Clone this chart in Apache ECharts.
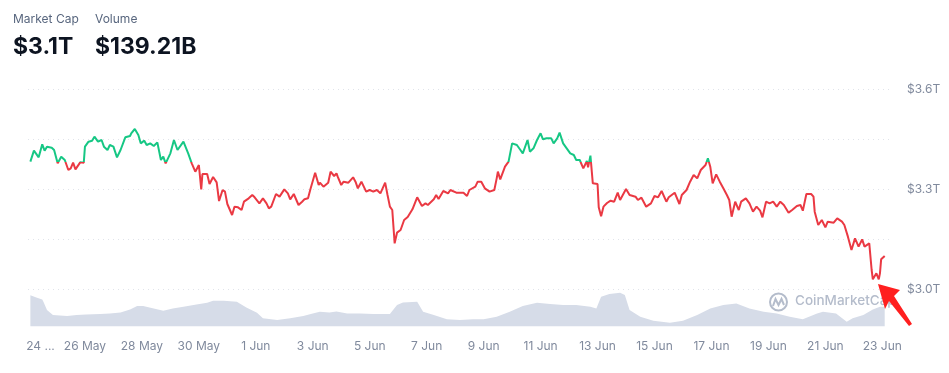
<!DOCTYPE html>
<html>
<head>
<meta charset="utf-8">
<script src="https://cdn.jsdelivr.net/npm/echarts@6/dist/echarts.min.js"></script>
<style>
html,body{margin:0;padding:0;background:#fff;}
#chart{width:949px;height:373px;}
</style>
</head>
<body>
<div id="chart"></div>
<script>
// Hours since 24 May 00:00
const priceHours = [
  2,5,9,12,14,16,20,22,25,28,
  31,34,36,38,40,44,47,48,51,54,
  56,59,62,64,67,69,72,75,78,82,
  86,87,90,93,95,98,100,103,106,109,
  112,114,116,120,123,126,131,135,138,141,
  144,146,147,151,153,156,159,161,164,166,
  168,172,174,177,180,182,186,189,191,195,
  198,201,203,205,209,212,216,219,221,224,
  228,231,233,236,238,242,245,246,249,253,
  255,258,260,261,264,266,270,274,276,278,
  281,285,288,291,294,297,301,303,305,307,
  309,311,314,317,320,324,328,332,335,337,
  342,344,346,350,354,356,361,367,370,372,
  377,379,382,385,389,393,395,396,398,402,
  405,408,412,415,417,421,423,426,429,432,
  434,437,441,443,446,448,451,454,457,460,
  462,465,468,471,472,474,476,480,481,483,
  485,488,491,494,497,499,504,507,512,514,
  517,521,525,528,531,534,538,540,545,549,
  551,555,558,561,564,567,571,573,575,577,
  580,583,586,589,591,593,596,599,601,605,
  608,611,614,617,619,622,625,628,631,634,
  637,641,644,648,651,653,656,660,662,663,
  666,669,672,674,679,682,686,688,691,694,
  697,700,703,705,709,711,712,715,717,718,
  719,722
];
// Market cap, trillions USD
const marketCap = [
  3.382,3.415,3.395,3.434,3.415,3.427,3.424,3.417,3.377,3.397,
  3.387,3.357,3.362,3.379,3.359,3.380,3.379,3.427,3.442,3.445,
  3.457,3.442,3.447,3.427,3.417,3.432,3.427,3.395,3.417,3.455,
  3.459,3.467,3.480,3.462,3.437,3.445,3.432,3.437,3.429,3.440,
  3.387,3.397,3.377,3.407,3.447,3.417,3.442,3.407,3.377,3.352,
  3.372,3.299,3.345,3.345,3.315,3.336,3.320,3.264,3.297,3.292,
  3.255,3.222,3.247,3.245,3.237,3.262,3.272,3.282,3.275,3.257,
  3.272,3.257,3.242,3.247,3.285,3.277,3.299,3.287,3.269,3.285,
  3.252,3.262,3.269,3.272,3.299,3.349,3.312,3.319,3.307,3.319,
  3.352,3.339,3.347,3.337,3.312,3.322,3.319,3.335,3.322,3.302,
  3.322,3.292,3.297,3.292,3.297,3.287,3.319,3.282,3.247,3.237,
  3.137,3.169,3.177,3.207,3.216,3.239,3.275,3.249,3.257,3.252,
  3.269,3.282,3.270,3.294,3.287,3.297,3.289,3.289,3.279,3.297,
  3.307,3.322,3.322,3.302,3.292,3.297,3.332,3.352,3.329,3.367,
  3.382,3.437,3.432,3.417,3.407,3.447,3.412,3.422,3.447,3.467,
  3.449,3.452,3.452,3.437,3.452,3.469,3.437,3.422,3.407,3.402,
  3.387,3.387,3.362,3.384,3.365,3.400,3.317,3.315,3.245,3.218,
  3.247,3.258,3.265,3.262,3.289,3.267,3.300,3.282,3.277,3.267,
  3.274,3.247,3.257,3.279,3.275,3.294,3.262,3.275,3.289,3.255,
  3.282,3.297,3.322,3.342,3.332,3.357,3.372,3.392,3.367,3.317,
  3.344,3.322,3.302,3.282,3.267,3.217,3.262,3.237,3.262,3.272,
  3.257,3.232,3.247,3.235,3.215,3.262,3.257,3.262,3.247,3.262,
  3.252,3.229,3.237,3.249,3.252,3.235,3.285,3.285,3.277,3.232,
  3.192,3.207,3.185,3.202,3.199,3.212,3.202,3.192,3.157,3.117,
  3.152,3.127,3.149,3.127,3.137,3.057,3.029,3.047,3.029,3.047,
  3.089,3.099
];
const volumeHours = [
  2,7,12,13,16,21,33,41,49,61,
  69,78,86,92,97,106,114,122,131,142,
  151,156,165,176,184,193,198,210,221,232,
  240,246,254,260,269,280,291,305,311,316,
  328,333,342,353,364,375,384,395,406,417,
  429,440,451,462,474,479,483,490,499,503,
  507,516,527,541,552,564,575,586,597,608,
  620,631,642,653,665,670,681,690,695,704,
  712,718,722
];
// Volume, billions USD
const volume = [
  220,204,190,174,116,80,74,80,85,88,
  92,99,120,144,144,127,111,127,139,155,
  167,181,181,174,134,97,57,46,57,74,
  92,104,99,106,92,92,88,88,151,169,
  174,104,81,50,46,50,50,69,104,144,
  167,158,151,151,139,127,209,228,237,221,
  116,69,41,27,41,81,127,151,162,127,
  104,92,69,50,92,104,92,34,57,81,
  120,139,139
];
const xTickLabels = ['24 ...','26 May','28 May','30 May','1 Jun','3 Jun','5 Jun','7 Jun','9 Jun','11 Jun','13 Jun','15 Jun','17 Jun','19 Jun','21 Jun','23 Jun'];
const yTickValues = [3.0, 3.3, 3.6];
const yTickLabels = ['$3.0T', '$3.3T', '$3.6T'];
const headerLabels = ['Market Cap', 'Volume'];
const headerValues = ['$3.1T', '$139.21B'];
const baseValue = marketCap[0];
const UP = '#16c784', DOWN = '#ea3943';

const priceData = priceHours.map((h, i) => [h, marketCap[i]]);
const volumeData = volumeHours.map((h, i) => [h, volume[i]]);

const FONT = 'Inter, "Noto Sans", sans-serif';
const chart = echarts.init(document.getElementById('chart'), null, {renderer: 'canvas'});

const xAxisCommon = {
  type: 'value', min: 0, max: 729, interval: 48,
  axisLine: {show: false}, axisTick: {show: false}, splitLine: {show: false}
};

chart.setOption({
  animation: false,
  backgroundColor: '#ffffff',
  grid: [
    {left: 28, right: 56, top: 89, height: 200},
    {left: 28, right: 56, top: 290, height: 36.5}
  ],
  xAxis: [
    Object.assign({gridIndex: 0, axisLabel: {show: false}}, xAxisCommon),
    Object.assign({gridIndex: 1, axisLabel: {
      show: true, color: '#808a9d', fontSize: 12, fontFamily: FONT, margin: 14,
      rich: {first: {padding: [0, 0, 0, 25], color: '#808a9d', fontSize: 12, fontFamily: FONT}},
      formatter: v => {
        if (v % 48 !== 0 || xTickLabels[v / 48] === undefined) return '';
        return v === 0 ? '{first|' + xTickLabels[0] + '}' : xTickLabels[v / 48];
      }
    }}, xAxisCommon)
  ],
  yAxis: [
    {
      gridIndex: 0, type: 'value', position: 'right', min: 3.0, max: 3.6, interval: 0.15,
      axisLine: {show: false}, axisTick: {show: false},
      axisLabel: {
        color: '#808a9d', fontSize: 12, fontFamily: FONT, margin: 14,
        formatter: v => {
          const i = yTickValues.findIndex(t => Math.abs(t - v) < 1e-6);
          return i >= 0 ? yTickLabels[i] : '';
        }
      },
      splitLine: {show: true, lineStyle: {color: '#e0e3ea', type: [1, 4], width: 1}}
    },
    {
      gridIndex: 1, type: 'value', min: 0, max: 256, show: false
    }
  ],
  series: [
    {
      id: 'price', type: 'line', xAxisIndex: 0, yAxisIndex: 0, data: priceData,
      showSymbol: false, symbol: 'none', lineStyle: {width: 2, color: DOWN}, z: 5
    },
    {
      type: 'line', xAxisIndex: 1, yAxisIndex: 1, data: volumeData,
      showSymbol: false, symbol: 'none',
      lineStyle: {width: 0},
      itemStyle: {color: '#d3d9e6'},
      areaStyle: {color: '#d6dce8', opacity: 1},
      z: 1
    }
  ],
  graphic: [
    {type: 'text', left: 13, top: 13, style: {text: headerLabels[0], fill: '#58667e', font: '12px ' + FONT}},
    {type: 'text', left: 95, top: 13, style: {text: headerLabels[1], fill: '#58667e', font: '12px ' + FONT}},
    {type: 'text', left: 13, top: 36, style: {text: headerValues[0], fill: '#0d1421', font: 'bold 23px ' + FONT}},
    {type: 'text', left: 95, top: 36, style: {text: headerValues[1], fill: '#0d1421', font: 'bold 23px ' + FONT}},
    // watermark
    {type: 'circle', shape: {cx: 778.5, cy: 302, r: 8.5}, style: {fill: 'none', stroke: '#b4bccb', lineWidth: 2}, z: 10},
    {type: 'polyline', shape: {points: [[773, 306], [775.5, 299], [778.5, 305], [781.5, 299], [784, 305]]}, style: {fill: 'none', stroke: '#b4bccb', lineWidth: 2}, z: 10},
    {type: 'text', left: 795, top: 294, style: {text: 'CoinMarketCap', fill: '#b4bccb', font: '500 13.5px ' + FONT}, z: 10},
    // red arrow
    {type: 'polygon', shape: {points: [[878, 284], [900, 290], [894, 296], [912, 324], [909, 326], [889, 301], [885, 309]]}, style: {fill: '#ff1f1f'}, z: 20}
  ]
});

// green above the opening value, red below: gradient split at the pixel of baseValue
const yTop = chart.convertToPixel({yAxisIndex: 0}, 3.6);
const yBot = chart.convertToPixel({yAxisIndex: 0}, 3.0);
const yBase = chart.convertToPixel({yAxisIndex: 0}, baseValue);
const off = Math.min(1, Math.max(0, (yBase - yTop) / (yBot - yTop)));
chart.setOption({
  series: [{
    id: 'price',
    lineStyle: {
      color: new echarts.graphic.LinearGradient(0, yTop, 0, yBot, [
        {offset: 0, color: UP}, {offset: off, color: UP},
        {offset: off, color: DOWN}, {offset: 1, color: DOWN}
      ], true)
    }
  }]
});
</script>
</body>
</html>
